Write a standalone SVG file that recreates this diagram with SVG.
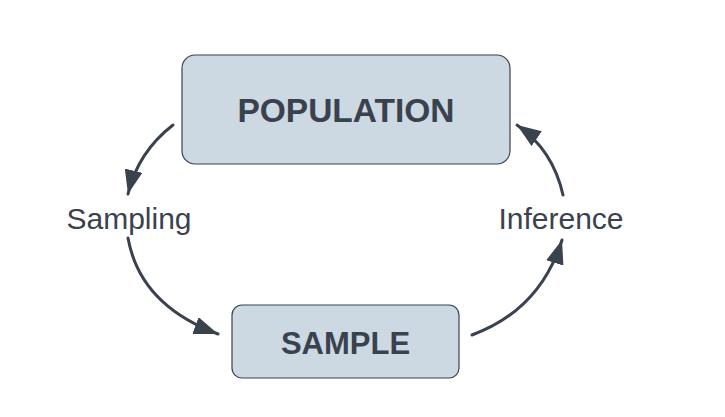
<svg xmlns="http://www.w3.org/2000/svg" width="725" height="417" viewBox="0 0 725 417">
<defs>
<style>
.box{fill:#ccd9e3;stroke:#3a424e;stroke-width:1.2}
.title{font-family:"Liberation Sans",Arial,sans-serif;font-weight:bold;fill:#3a424e;text-anchor:middle}
.lbl{font-family:"Liberation Sans",Arial,sans-serif;font-size:30px;fill:#3a424e;text-anchor:middle}
.conn{fill:none;stroke:#3a424e;stroke-width:3;stroke-linecap:round}
</style>
<marker id="ah" markerUnits="userSpaceOnUse" markerWidth="26" markerHeight="18" refX="24" refY="9" orient="auto">
<path d="M0,0 L24,9 L0,18 Z" fill="#3a424e"/>
</marker>
</defs>
<rect width="725" height="417" fill="#ffffff"/>
<g id="population">
<rect class="box" x="182" y="55" width="328" height="109" rx="13"/>
<text class="title" x="346" y="122" font-size="33.5">POPULATION</text>
</g>
<g id="sample">
<rect class="box" x="232" y="305" width="227" height="73" rx="10"/>
<text class="title" x="345.5" y="354" font-size="31">SAMPLE</text>
</g>
<g id="sampling-label">
<text class="lbl" x="129" y="229">Sampling</text>
</g>
<g id="inference-label">
<text class="lbl" x="561" y="229">Inference</text>
</g>
<g id="connectors">
<path class="conn" d="M173,125 Q138,152 128,194" marker-end="url(#ah)"/>
<path class="conn" d="M128,238 Q140,305 218,334" marker-end="url(#ah)"/>
<path class="conn" d="M472,335 Q540,310 562,240" marker-end="url(#ah)"/>
<path class="conn" d="M563,195 Q553,150 517,125" marker-end="url(#ah)"/>
</g>
</svg>
